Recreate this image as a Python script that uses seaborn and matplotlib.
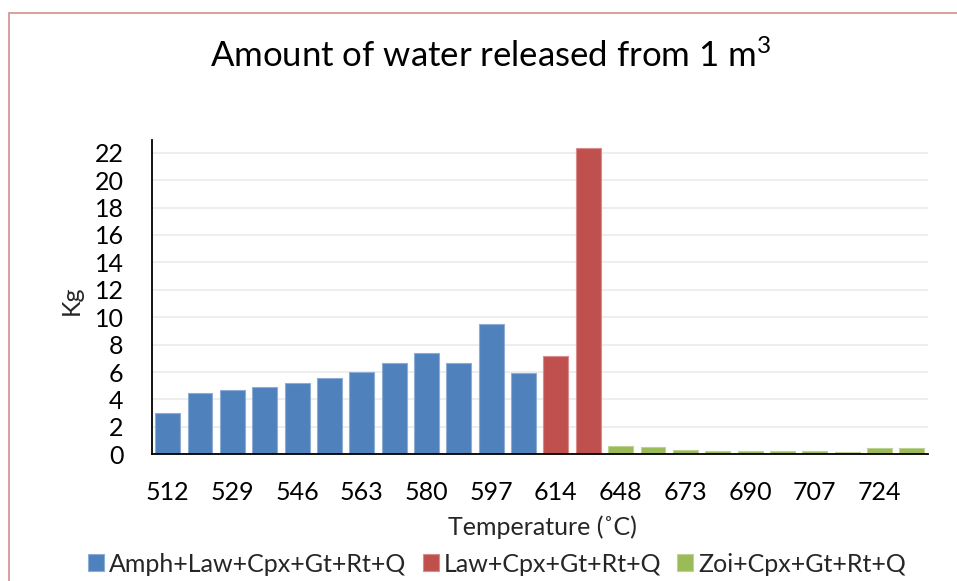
import matplotlib
matplotlib.use("Agg")
import matplotlib.pyplot as plt
import seaborn as sns
import pandas as pd
from matplotlib.patches import Rectangle
from matplotlib.colors import to_rgb

# --- data ---
temps = ["512", "520", "529", "537", "546", "554", "563", "571", "580", "588", "597", "605",
         "614", "631",
         "648", "660", "673", "681", "690", "698", "707", "715", "724", "732"]
water_kg = [3.0, 4.45, 4.67, 4.89, 5.18, 5.54, 6.0, 6.64, 7.41, 6.68, 9.48, 5.91,
            7.19, 22.32,
            0.61, 0.53, 0.31, 0.24, 0.26, 0.26, 0.22, 0.17, 0.46, 0.48]
series_names = ["Amph+Law+Cpx+Gt+Rt+Q", "Law+Cpx+Gt+Rt+Q", "Zoi+Cpx+Gt+Rt+Q"]
series_counts = [12, 2, 10]
series_colors = ["#4F81BD", "#C0504D", "#9BBB59"]
tick_labels = temps[::2]

assemblage = []
for name, n in zip(series_names, series_counts):
    assemblage += [name] * n

df = pd.DataFrame({"temp": temps, "kg": water_kg, "assemblage": assemblage})

sns.set_style("white")
plt.rcParams["font.family"] = ["Lato", "DejaVu Sans"]
plt.rcParams["mathtext.default"] = "regular"

W, H = 957, 581
FS = 18
fig = plt.figure(figsize=(W / 100, H / 100), dpi=100)

# outer chart frame (pinkish), partly cut off at right/bottom
fig.patches.append(Rectangle((9 / W, -0.2), 1.2, 1.2 - 13 / H, transform=fig.transFigure,
                             fill=False, edgecolor="#D99694", linewidth=1.3))

ax_left, ax_right, ax_bottom, ax_top = 151.5, 928, 454.3, 140
ax = fig.add_axes([ax_left / W, 1 - ax_bottom / H, (ax_right - ax_left) / W, (ax_bottom - ax_top) / H])

sns.barplot(data=df, x="temp", y="kg", hue="assemblage", order=temps, hue_order=series_names,
            palette=dict(zip(series_names, series_colors)), dodge=False, width=0.77,
            saturation=1, ax=ax)

# thin lighter outline round each bar, as in the original
for p in ax.patches:
    r, g, b = to_rgb(p.get_facecolor())
    p.set_edgecolor((r + (1 - r) * 0.35, g + (1 - g) * 0.35, b + (1 - b) * 0.35))
    p.set_linewidth(0.8)

handles, labels = ax.get_legend_handles_labels()
ax.get_legend().remove()

ax.set_ylim(0, (ax_bottom - ax_top) / 13.71)
ax.set_xlim(-0.5, len(temps) - 0.5)
ax.set_yticks(range(0, 23, 2))
ax.set_xticks(range(0, len(temps), 2))
ax.set_xticklabels(tick_labels)
ax.yaxis.grid(True, color="#EDEDED", linewidth=1.3)
ax.set_axisbelow(True)
for s in ["top", "right"]:
    ax.spines[s].set_visible(False)
for s in ["left", "bottom"]:
    ax.spines[s].set_color("black")
    ax.spines[s].set_linewidth(1.3)
ax.tick_params(axis="both", length=0, labelsize=FS, colors="black")
ax.tick_params(axis="x", pad=19.5)
ax.tick_params(axis="y", pad=20)

ax.set_xlabel("Temperature (˚C)", fontsize=FS)
ax.xaxis.label.set_va("center")
ax.xaxis.set_label_coords((542 - ax_left) / (ax_right - ax_left), (ax_bottom - 527) / (ax_bottom - ax_top))
ax.set_ylabel("Kg", fontsize=FS)
ax.yaxis.label.set_va("center")
ax.yaxis.set_label_coords((71 - ax_left) / (ax_right - ax_left), (ax_bottom - 300) / (ax_bottom - ax_top))

fig.text(490 / W, 1 - 67 / H, "Amount of water released from 1 m$^{3}$", ha="center", va="baseline",
         fontsize=25, color="black")

fig.legend(handles, labels, loc="center", bbox_to_anchor=(497 / W, 1 - 564 / H), ncol=3,
           frameon=False, fontsize=FS, handlelength=0.64, handleheight=0.64,
           handletextpad=0.2, columnspacing=0.64, borderaxespad=0)

fig.savefig("out.png", dpi=100, facecolor="white")
